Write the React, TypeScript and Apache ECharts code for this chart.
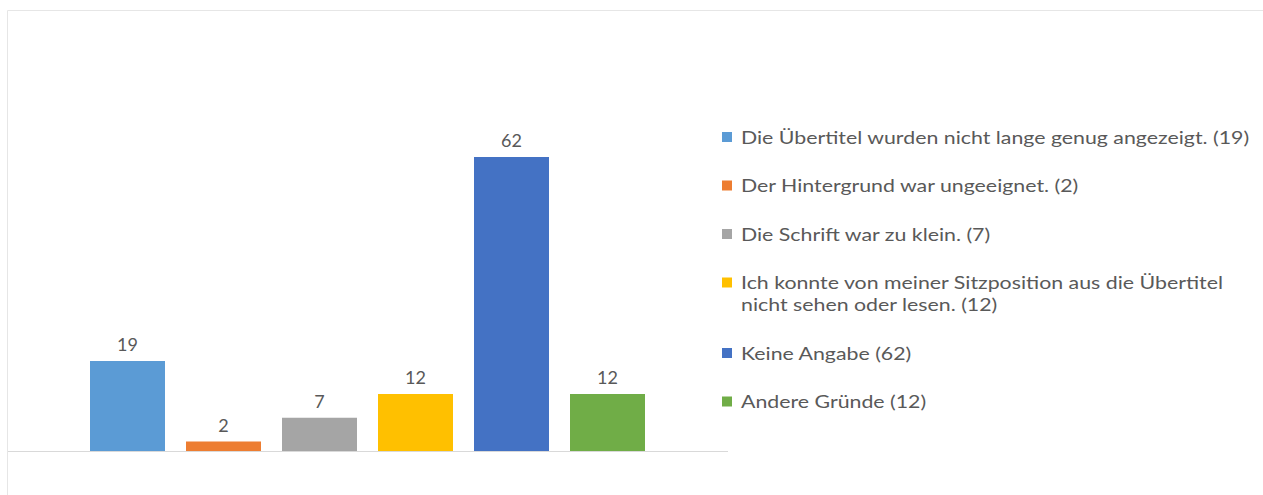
import React, { useEffect, useRef } from "react";
import * as echarts from "echarts";

const categories = [
  "Die Übertitel wurden nicht lange genug angezeigt.",
  "Der Hintergrund war ungeeignet.",
  "Die Schrift war zu klein.",
  "Ich konnte von meiner Sitzposition aus die Übertitel\nnicht sehen oder lesen.",
  "Keine Angabe",
  "Andere Gründe",
];
const values = [19, 2, 7, 12, 62, 12];
const colors = ["#5B9BD5", "#ED7D31", "#A5A5A5", "#FFC000", "#4472C4", "#70AD47"];

const FONT = "Lato, 'Open Sans', sans-serif";
const TEXT_COLOR = "#595959";

export default function App() {
  const ref = useRef<HTMLDivElement>(null);
  useEffect(() => {
    if (!ref.current) return;
    const chart = echarts.init(ref.current, undefined, { renderer: "svg" });

    const legendEls: any[] = [];
    let y = 137;
    const lineH = 22;
    categories.forEach((c, i) => {
      const text = `${c} (${values[i]})`;
      const lines = text.split("\n").length;
      legendEls.push({
        type: "rect",
        shape: { x: 722, y: y - 5, width: 10, height: 10 },
        style: { fill: colors[i] },
        silent: true,
      });
      legendEls.push({
        type: "text",
        x: 741,
        y: y - lineH / 2,
        scaleX: 1.185,
        style: {
          text,
          fill: TEXT_COLOR,
          font: `18px ${FONT}`,
          lineHeight: lineH,
          verticalAlign: "top",
          align: "left",
        },
        silent: true,
      });
      y += 48.5 + (lines - 1) * lineH;
    });

    chart.setOption({
      animation: false,
      backgroundColor: "#ffffff",
      grid: { left: 79.5, width: 576, top: 119, height: 332 },
      xAxis: {
        type: "category",
        data: categories,
        axisLine: { show: false },
        axisTick: { show: false },
        axisLabel: { show: false },
        splitLine: { show: false },
      },
      yAxis: {
        type: "value",
        min: 0,
        max: 70,
        show: false,
        splitLine: { show: false },
      },
      series: [
        {
          type: "bar",
          barWidth: 75,
          data: values.map((v, i) => ({ value: v, itemStyle: { color: colors[i] } })),
          label: {
            show: true,
            position: "top",
            distance: 8,
            color: TEXT_COLOR,
            fontFamily: FONT,
            fontSize: 18,
          },
        },
      ],
      graphic: [
        {
          type: "rect",
          shape: { x: 7.5, y: 10.5, width: 1400, height: 700 },
          style: { fill: "none", stroke: "#e6e6e6", lineWidth: 1 },
          silent: true,
          z: -10,
        },
        {
          type: "line",
          shape: { x1: 8, y1: 451.5, x2: 728, y2: 451.5 },
          style: { stroke: "#d9d9d9", lineWidth: 1 },
          silent: true,
        },
        ...legendEls,
      ],
    });
    return () => chart.dispose();
  }, []);
  return (
    <div
      ref={ref}
      style={{ position: "absolute", left: 0, top: 0, width: 1263, height: 495 }}
    />
  );
}
